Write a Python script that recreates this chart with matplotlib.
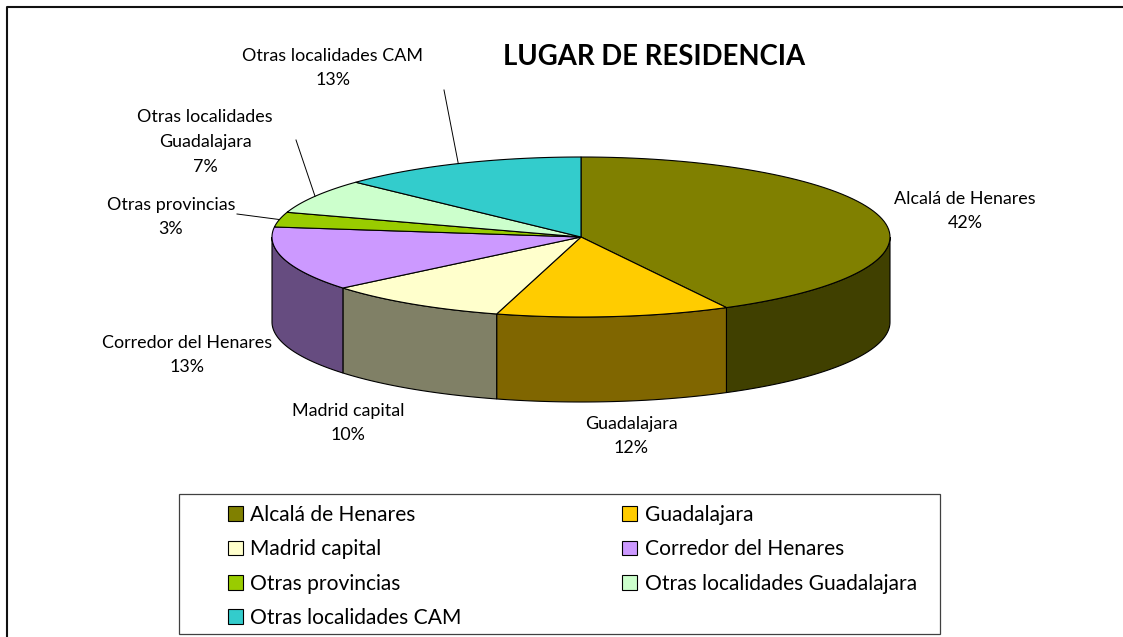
import numpy as np
import matplotlib
matplotlib.use("Agg")
import matplotlib.pyplot as plt
from matplotlib.patches import Polygon, Rectangle

plt.rcParams['font.family'] = ['Lato', 'DejaVu Sans']

# values in percent, clockwise from the top (labels are rounded)
categories = ["Alcalá de Henares", "Guadalajara", "Madrid capital", "Corredor del Henares",
              "Otras provincias", "Otras localidades Guadalajara", "Otras localidades CAM"]
values = [42.2, 12.2, 9.6, 13.0, 3.0, 7.0, 13.0]
top_colors = ["#808000", "#FFCC00", "#FFFFCC", "#CC99FF", "#99CC00", "#CCFFCC", "#33CCCC"]
side_colors = ["#404000", "#806600", "#808066", "#664C80", "#4C6600", "#668066", "#196666"]

# label text, centre position, leader line start
label_text = ["Alcalá de Henares\n42%", "Guadalajara\n12%", "Madrid capital\n10%",
              "Corredor del Henares\n13%", "Otras provincias\n3%",
              "Otras localidades\nGuadalajara\n7%", "Otras localidades CAM\n13%"]
label_pos = [(965, 211), (631, 436), (348, 423), (187, 355), (171, 217), (205, 142), (333, 68)]
leader_start = [None, None, None, None, (237, 214), (296, 140), (444, 90)]

cx, cy, rx, ry, depth = 581, 237, 309, 80, 85


def rim(a0, a1, n=80):
    t = np.radians(np.linspace(a0, a1, n))
    return cx + rx * np.sin(t), cy - ry * np.cos(t)


fig = plt.figure(figsize=(11.23, 6.37), dpi=100)
ax = fig.add_axes([0, 0, 1, 1])
ax.set_xlim(0, 1123)
ax.set_ylim(637, 0)
ax.axis("off")

# chart border, only left and top are in the picture
ax.plot([7, 7, 1130], [640, 6.5, 6.5], color="#111111", lw=1.5)

edges = np.cumsum([0] + values) * 3.6

# side walls, only the front half of the disc shows
for i in range(len(values)):
    a0, a1 = edges[i], edges[i + 1]
    a0_v, a1_v = max(a0, 90), min(a1, 270)
    if a1_v <= a0_v:
        continue
    x, y = rim(a0_v, a1_v)
    pts = np.r_[np.c_[x, y], np.c_[x[::-1], y[::-1] + depth]]
    ax.add_patch(Polygon(pts, closed=True, fc=side_colors[i], ec="black", lw=0.8, zorder=2))

# top face
handles = []
for i in range(len(values)):
    x, y = rim(edges[i], edges[i + 1])
    pts = np.r_[[[cx, cy]], np.c_[x, y]]
    handles.append(ax.add_patch(Polygon(pts, closed=True, fc=top_colors[i], ec="black", lw=0.8,
                                        zorder=3, label=categories[i])))

# labels and leader lines
for i in range(len(values)):
    ax.text(label_pos[i][0], label_pos[i][1], label_text[i], ha="center", va="center",
            fontsize=12.9, color="black", linespacing=1.68, zorder=5)
    if leader_start[i] is not None:
        mid = (edges[i] + edges[i + 1]) / 2
        ex, ey = rim(mid, mid, 1)
        ax.plot([leader_start[i][0], ex[0]], [leader_start[i][1], ey[0]], color="black", lw=0.7, zorder=4)

ax.text(654, 57, "LUGAR DE RESIDENCIA", ha="center", va="center", fontsize=19.8,
        fontweight="bold", color="black")

# legend box, filled column by column
order = [0, 2, 4, 6, 1, 3, 5]
ax.add_patch(Rectangle((179, 494), 761, 140, fc="white", ec="#404040", lw=0.9, zorder=1))
leg = ax.legend([handles[i] for i in order], [categories[i] for i in order], ncol=2,
                loc="upper left", bbox_to_anchor=(228 / 1123, 1 - 505 / 637), frameon=False,
                fontsize=15.1, handlelength=0.71, handleheight=0.71, handletextpad=0.36,
                labelspacing=0.68, columnspacing=7.66, borderpad=0, borderaxespad=0)

fig.savefig("out.png", dpi=100)
